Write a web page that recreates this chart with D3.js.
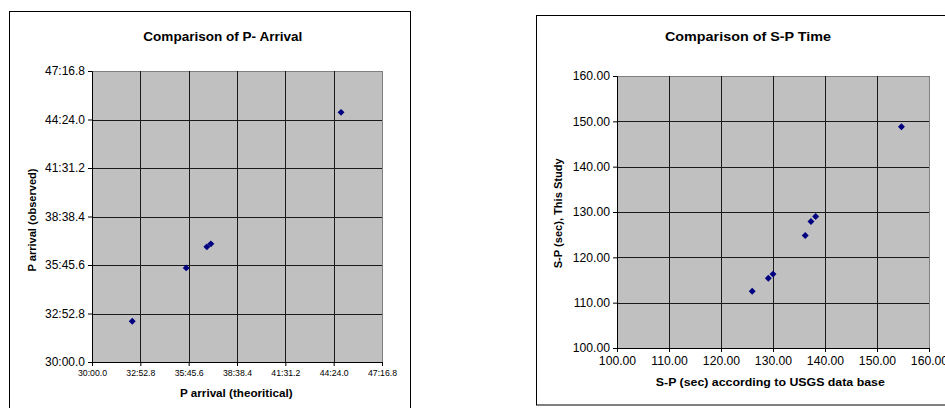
<!DOCTYPE html>
<html><head><meta charset="utf-8">
<script src="https://cdn.jsdelivr.net/npm/d3@7"></script>
<style>
html,body{margin:0;padding:0;background:#fff;}
svg{display:block;font-family:"Liberation Sans",Arial,sans-serif;}
</style></head>
<body>
<svg id="c" width="945" height="408"></svg>
<script>
// ---- Chart 1: Comparison of P- Arrival (mm:ss.s) ----
const pTheoretical = ["32:23.9","35:36.8","36:50.7","37:05.0","44:50.4"];
const pObserved    = ["32:25.2","35:35.3","36:50.2","37:00.9","44:49.5"];
const pTicks = ["30:00.0","32:52.8","35:45.6","38:38.4","41:31.2","44:24.0","47:16.8"];
const pXTickLabels = ["30:00.0","32:52.8","35:45.6","38:38.4","41:31.2","44:24.0","47:16.8"];

// ---- Chart 2: Comparison of S-P Time (sec) ----
const spUSGS  = [126.0,129.1,130.0,136.2,137.3,138.2,154.7];
const spStudy = [112.5,115.4,116.3,124.8,127.9,129.0,148.8];
const spTicks = [100,110,120,130,140,150,160];

const toSec = s => { const [m, r] = s.split(":"); return (+m)*60 + (+r); };

const svg = d3.select("#c");

function drawChart(o){
  const g = svg.append("g");
  g.append("rect").attr("x",o.frame[0]).attr("y",o.frame[1]).attr("width",o.frame[2]).attr("height",o.frame[3])
    .attr("fill","#fff").attr("stroke","#000").attr("stroke-width",1);
  const x = d3.scaleLinear().domain(o.xDomain).range([o.L,o.R]);
  const y = d3.scaleLinear().domain(o.yDomain).range([o.B,o.T]);
  g.append("rect").attr("x",o.L).attr("y",o.T).attr("width",o.R-o.L).attr("height",o.B-o.T)
    .attr("fill","#c0c0c0").attr("stroke","#808080").attr("stroke-width",1).attr("shape-rendering","crispEdges");
  g.append("g").selectAll("line").data(o.xTicks.slice(1,-1)).join("line")
    .attr("x1",d=>Math.round(x(d))+0.5).attr("x2",d=>Math.round(x(d))+0.5).attr("y1",o.T).attr("y2",o.B)
    .attr("stroke","#1a1a1a").attr("stroke-width",1);
  g.append("g").selectAll("line").data(o.yTicks.slice(1,-1)).join("line")
    .attr("y1",d=>Math.round(y(d))+0.5).attr("y2",d=>Math.round(y(d))+0.5).attr("x1",o.L).attr("x2",o.R)
    .attr("stroke","#1a1a1a").attr("stroke-width",1);
  const xa = d3.axisBottom(x).tickValues(o.xTicks).tickFormat((d,i)=>o.xLabels[i]).tickSizeOuter(0).tickSize(4).tickPadding(4);
  const ya = d3.axisLeft(y).tickValues(o.yTicks).tickFormat((d,i)=>o.yLabels[i]).tickSizeOuter(0).tickSize(4).tickPadding(3);
  const gx = g.append("g").attr("transform",`translate(0,${o.B})`).call(xa);
  const gy = g.append("g").attr("transform",`translate(${o.L},0)`).call(ya);
  [gx,gy].forEach(a=>{a.select(".domain").attr("stroke","#000");a.selectAll(".tick line").attr("stroke","#000");
    a.selectAll("text").attr("fill","#000").attr("font-family","Liberation Sans, Arial, sans-serif");});
  gx.selectAll("text").attr("font-size",o.xFont).attr("dy",o.xDy);
  gy.selectAll("text").attr("font-size",o.yFont);
  if(o.xCondense) gx.selectAll("text").attr("textLength",o.xCondense).attr("lengthAdjust","spacingAndGlyphs");
  g.append("g").selectAll("path").data(o.xs.map((v,i)=>[v,o.ys[i]])).join("path")
    .attr("d",d3.symbol(d3.symbolSquare,24))
    .attr("transform",d=>`translate(${x(d[0])},${y(d[1])}) rotate(45)`)
    .attr("fill","#000080");
  const T = (txt, font, len) => txt.attr("text-anchor","middle").attr("font-weight","bold").attr("font-size",font)
    .attr("textLength",len).attr("lengthAdjust","spacingAndGlyphs");
  T(g.append("text").attr("x",o.title[1]).attr("y",o.title[2]).text(o.title[0]), o.titleFont, o.title[3]);
  T(g.append("text").attr("x",o.xTitle[1]).attr("y",o.xTitle[2]).text(o.xTitle[0]), o.axTitleFont, o.xTitle[3]);
  T(g.append("text").attr("transform",`translate(${o.yTitle[1]},${o.yTitle[2]}) rotate(-90)`).text(o.yTitle[0]), o.axTitleFont, o.yTitle[3]);
}

drawChart({
  frame:[9.5,11.5,401,420],
  L:92,R:382,T:71,B:362,
  xDomain:[toSec(pTicks[0]),toSec(pTicks[6])], yDomain:[toSec(pTicks[0]),toSec(pTicks[6])],
  xTicks:pTicks.map(toSec), yTicks:pTicks.map(toSec),
  xLabels:pXTickLabels, yLabels:pTicks,
  xFont:"8.5px", xDy:"0.71em", yFont:"12px", xCondense:29,
  xs:pTheoretical.map(toSec), ys:pObserved.map(toSec),
  title:["Comparison of P- Arrival",222.8,41,159], titleFont:"12.5px",
  xTitle:["P arrival (theoritical)",236.3,396.5,112.5], yTitle:["P arrival (observed)",35.5,220,103], axTitleFont:"11px"
});

drawChart({
  frame:[536.5,15.5,420,389.5],
  L:617,R:929,T:76,B:348,
  xDomain:[100,160], yDomain:[100,160],
  xTicks:spTicks, yTicks:spTicks,
  xLabels:spTicks.map(d=>d.toFixed(2)), yLabels:spTicks.map(d=>d.toFixed(2)),
  xFont:"12.2px", xDy:"0.71em", yFont:"12.2px",
  xs:spUSGS, ys:spStudy,
  title:["Comparison of S-P Time",748,41,166], titleFont:"12.5px",
  xTitle:["S-P (sec) according to USGS data base",770.3,386,229], yTitle:["S-P (sec), This Study",562,213.3,110], axTitleFont:"11px"
});
</script>
</body></html>
